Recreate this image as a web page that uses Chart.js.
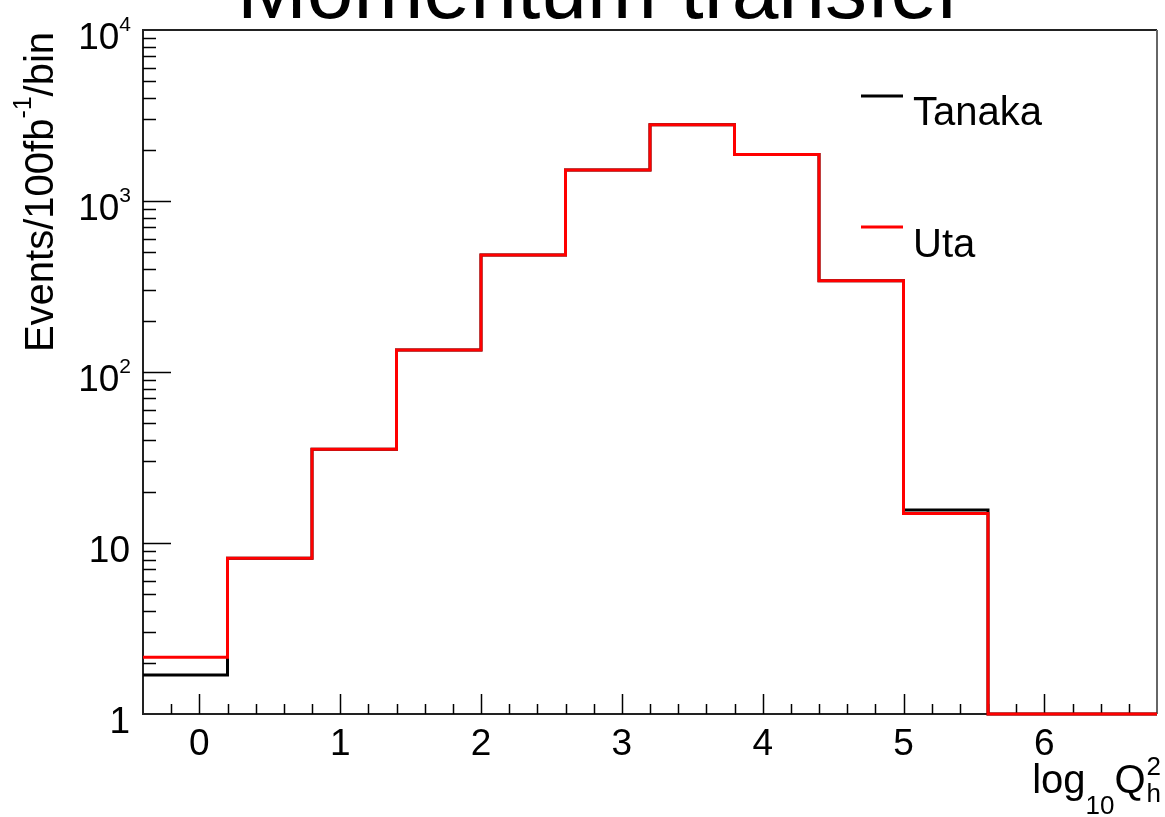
<!DOCTYPE html>
<html>
<head>
<meta charset="utf-8">
<script src="https://cdn.jsdelivr.net/npm/chart.js@4.4.0/dist/chart.umd.min.js"></script>
<style>
  html, body { margin: 0; padding: 0; background: #fff; }
  #wrap { width: 1165px; height: 817px; position: relative; }
</style>
</head>
<body>
<div id="wrap"><canvas id="momentumTransfer"></canvas></div>
<script>
// bin edges in log10 Q_h^2 and the events per bin for each generator
const binEdges = [-0.4, 0.2, 0.8, 1.4, 2.0, 2.6, 3.2, 3.8, 4.4, 5.0, 5.6, 6.2, 6.8];
const tanakaEvents = [1.69, 8.15, 35.3, 134.5, 483, 1518, 2790, 1870, 342, 15.6, 1, 1];
const utaEvents = [2.15, 8.15, 35.3, 134.5, 483, 1518, 2790, 1870, 342, 14.9, 1, 1];
const seriesNames = ['Tanaka', 'Uta'];

const xTickValues = [0, 1, 2, 3, 4, 5, 6];
const xTickLabels = ['0', '1', '2', '3', '4', '5', '6'];
const yTickValues = [1, 10, 100, 1000, 10000];
const yTickBase = ['1', '10', '10', '10', '10'];
const yTickExp = ['', '', '2', '3', '4'];

const FONT = '"Liberation Sans", Arial, Helvetica, sans-serif';

function histPoints(values) {
    // one point per bin edge, last edge repeats the last bin
    return binEdges.map(function(x, i) {
        return { x: x, y: values[Math.min(i, values.length - 1)] };
    });
}

const rootStyle = {
    id: 'rootStyle',
    beforeDatasetsDraw: function(chart) {
        const ctx = chart.ctx;
        const a = chart.chartArea;
        const xs = chart.scales.x;
        const ys = chart.scales.y;
        ctx.save();

        // frame
        ctx.lineWidth = 2;
        ctx.strokeStyle = '#222';
        ctx.beginPath();
        ctx.moveTo(a.right, a.top);
        ctx.lineTo(a.left, a.top);
        ctx.lineTo(a.left, a.bottom);
        ctx.lineTo(a.right, a.bottom);
        ctx.stroke();
        ctx.strokeStyle = '#666';
        ctx.beginPath();
        ctx.moveTo(a.right, a.top);
        ctx.lineTo(a.right, a.bottom);
        ctx.stroke();

        // x ticks, pointing up into the frame
        ctx.strokeStyle = '#000';
        ctx.lineWidth = 1.5;
        ctx.beginPath();
        for (let k = -2; k <= 34; k++) {
            const v = k / 5;
            if (v <= xs.min || v >= xs.max) continue;
            const px = Math.round(xs.getPixelForValue(v)) + 0.5;
            const len = (k % 5 === 0) ? 20 : 10;
            ctx.moveTo(px, a.bottom);
            ctx.lineTo(px, a.bottom - len);
        }
        // y ticks, log minors
        for (let d = 1; d < 10000; d *= 10) {
            for (let m = 1; m < 10; m++) {
                const v = d * m;
                if (v <= ys.min) continue;
                const py = Math.round(ys.getPixelForValue(v)) + 0.5;
                const len = (m === 1) ? 28 : 13;
                ctx.moveTo(a.left, py);
                ctx.lineTo(a.left + len, py);
            }
        }
        ctx.stroke();

        // tick labels
        ctx.fillStyle = '#000';
        ctx.textBaseline = 'alphabetic';
        ctx.font = '37px ' + FONT;
        ctx.textAlign = 'center';
        xTickValues.forEach(function(v, i) {
            ctx.fillText(xTickLabels[i], xs.getPixelForValue(v), a.bottom + 41);
        });
        ctx.textAlign = 'right';
        yTickValues.forEach(function(v, i) {
            const py = ys.getPixelForValue(v);
            let right = 130;
            if (yTickExp[i]) {
                ctx.font = '21px ' + FONT;
                ctx.fillText(yTickExp[i], right + 1, py + 1);
                right -= ctx.measureText(yTickExp[i]).width - 1;
            }
            ctx.font = '37px ' + FONT;
            ctx.fillText(yTickBase[i], right, py + 19);
        });
        ctx.restore();
    },
    afterDraw: function(chart) {
        const ctx = chart.ctx;
        ctx.save();
        ctx.fillStyle = '#000';
        ctx.textBaseline = 'alphabetic';

        // title, cut by the top of the page like the original
        ctx.font = '84px ' + FONT;
        ctx.textAlign = 'center';
        ctx.fillText('Momentum transfer', 601, 18);

        // y title: Events/100fb^-1/bin
        ctx.textAlign = 'left';
        const bigY = '40px ' + FONT;
        const supY = '25px ' + FONT;
        ctx.font = bigY;
        const w1 = ctx.measureText('Events/100fb').width;
        const w3 = ctx.measureText('/bin').width;
        ctx.font = supY;
        const w2 = ctx.measureText('-1').width;
        ctx.save();
        ctx.translate(53, 192);
        ctx.rotate(-Math.PI / 2);
        let x0 = -(w1 + w2 + w3) / 2;
        ctx.font = bigY;
        ctx.fillText('Events/100fb', x0, 0);
        ctx.font = supY;
        ctx.fillText('-1', x0 + w1, -22);
        ctx.font = bigY;
        ctx.fillText('/bin', x0 + w1 + w2, 0);
        ctx.restore();

        // x title: log10 Q_h^2
        const bigX = '40px ' + FONT;
        const smallX = '26px ' + FONT;
        ctx.font = bigX;
        const wLog = ctx.measureText('log').width;
        const wQ = ctx.measureText('Q').width;
        ctx.font = smallX;
        const wTen = ctx.measureText('10').width;
        const wH = Math.max(ctx.measureText('h').width, ctx.measureText('2').width);
        let xs0 = 1160 - (wLog + wTen + wQ + wH);
        ctx.font = bigX;
        ctx.fillText('log', xs0, 793);
        ctx.font = smallX;
        ctx.fillText('10', xs0 + wLog, 814);
        ctx.font = bigX;
        ctx.fillText('Q', xs0 + wLog + wTen, 793);
        ctx.font = smallX;
        ctx.fillText('2', xs0 + wLog + wTen + wQ + 1, 775);
        ctx.fillText('h', xs0 + wLog + wTen + wQ + 1, 802);

        // legend
        ctx.font = '40px ' + FONT;
        chart.data.datasets.forEach(function(ds, i) {
            const ly = 96 + i * 131;
            ctx.strokeStyle = ds.borderColor;
            ctx.lineWidth = 3;
            ctx.beginPath();
            ctx.moveTo(861, ly);
            ctx.lineTo(903, ly);
            ctx.stroke();
            ctx.fillText(ds.label, 913, 125 + i * 132);
        });
        ctx.restore();
    }
};

document.addEventListener("DOMContentLoaded", function() {
    const ctx = document.getElementById('momentumTransfer').getContext('2d');

    const momentumChart = new Chart(ctx, {
        type: 'line',
        data: {
            datasets: [{
                label: seriesNames[0],
                data: histPoints(tanakaEvents),
                borderColor: '#000000',
                borderWidth: 3,
                stepped: 'before',
                pointRadius: 0,
                fill: false,
                order: 2,
                clip: 6
            }, {
                label: seriesNames[1],
                data: histPoints(utaEvents),
                borderColor: '#ff0000',
                borderWidth: 3,
                stepped: 'before',
                pointRadius: 0,
                fill: false,
                order: 1,
                clip: 6
            }]
        },
        options: {
            responsive: true,
            maintainAspectRatio: false,
            animation: false,
            layout: {
                padding: { left: 143, right: 8, top: 30, bottom: 103 }
            },
            scales: {
                x: {
                    type: 'linear',
                    min: -0.4,
                    max: 6.8,
                    display: false
                },
                y: {
                    type: 'logarithmic',
                    min: 1,
                    max: 10000,
                    display: false
                }
            },
            plugins: {
                legend: { display: false },
                title: { display: false },
                tooltip: { enabled: false }
            }
        },
        plugins: [rootStyle]
    });
});
</script>
</body>
</html>
